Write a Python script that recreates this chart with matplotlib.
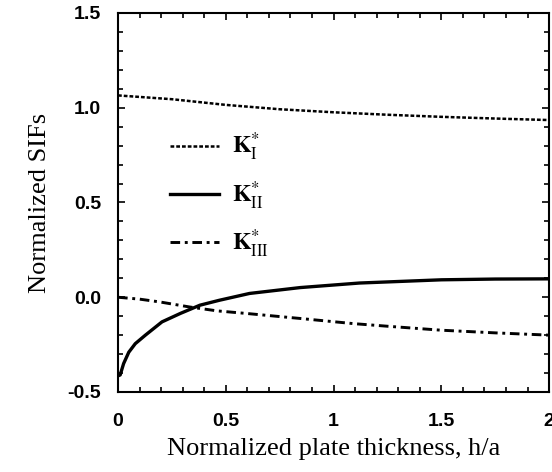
import matplotlib
matplotlib.use("Agg")
import matplotlib.pyplot as plt
from matplotlib.ticker import MultipleLocator, FixedLocator

# Data
h_KI = [0.0, 0.25, 0.5, 0.75, 1.0, 1.25, 1.5, 1.75, 2.0]
KI = [1.065, 1.045, 1.015, 0.992, 0.976, 0.963, 0.952, 0.943, 0.935]

h_KII = [0.0, 0.01, 0.026, 0.05, 0.08, 0.127, 0.204, 0.29, 0.38, 0.47,
         0.61, 0.845, 1.12, 1.5, 1.75, 2.0]
KII = [-0.415, -0.41, -0.35, -0.29, -0.245, -0.2, -0.13, -0.085, -0.042,
       -0.016, 0.02, 0.051, 0.075, 0.092, 0.096, 0.097]

h_KIII = [0.0, 0.1, 0.195, 0.33, 0.46, 0.6, 0.845, 1.09, 1.25, 1.5, 1.75, 2.0]
KIII = [0.0, -0.01, -0.025, -0.051, -0.072, -0.086, -0.112, -0.139, -0.153, -0.174, -0.188, -0.2]

labels = [r'$\mathbf{K}^{*}_{\mathrm{I}}$', r'$\mathbf{K}^{*}_{\mathrm{II}}$', r'$\mathbf{K}^{*}_{\mathrm{III}}$']
xticks = [0, 0.5, 1, 1.5, 2]
xticklabels = ['0', '0.5', '1', '1.5', '2']
yticks = [-0.5, 0.0, 0.5, 1.0, 1.5]
yticklabels = ['-0.5', '0.0', '0.5', '1.0', '1.5']

plt.rcParams['mathtext.fontset'] = 'stix'

fig = plt.figure(figsize=(5.52, 4.72), dpi=100)
ax = fig.add_axes([0.2138, 0.1695, 0.781, 0.803])

ax.plot(h_KI, KI, color='black', lw=1.8, linestyle=(0, (1.5, 0.8)), label=labels[0])
ax.plot(h_KII, KII, color='black', lw=2.4, linestyle='-', label=labels[1])
ax.plot(h_KIII, KIII, color='black', lw=2.1, linestyle=(0, (3.3, 1.6, 1.0, 1.6)), label=labels[2])

ax.set_xlim(0, 2)
ax.set_ylim(-0.5, 1.5)
ax.xaxis.set_major_locator(FixedLocator(xticks))
ax.set_xticklabels(xticklabels)
ax.yaxis.set_major_locator(FixedLocator(yticks))
ax.set_yticklabels(yticklabels)
ax.xaxis.set_minor_locator(MultipleLocator(0.1))
ax.yaxis.set_minor_locator(MultipleLocator(0.1))
ax.tick_params(which='both', direction='in', top=True, right=True, width=1.2)
ax.tick_params(which='major', length=5)
ax.tick_params(which='minor', length=3.5)
ax.tick_params(axis='x', which='major', pad=15)
ax.tick_params(axis='y', which='major', pad=12)
for lab in ax.get_xticklabels() + ax.get_yticklabels():
    lab.set_fontfamily('Liberation Sans')
    lab.set_fontweight('bold')
    lab.set_fontsize(14)
for s in ax.spines.values():
    s.set_linewidth(1.5)

ax.set_xlabel('Normalized plate thickness, h/a', fontfamily='Liberation Serif', fontsize=19, labelpad=6)
ax.set_ylabel('Normalized SIFs', fontfamily='Liberation Serif', fontsize=19, labelpad=12)

leg = ax.legend(loc='upper left', bbox_to_anchor=(0.12, 0.688), frameon=False,
                handlelength=2.1, handletextpad=0.55, labelspacing=0.68,
                borderpad=0, borderaxespad=0, prop={'size': 17})

fig.savefig('out.png', dpi=100)
